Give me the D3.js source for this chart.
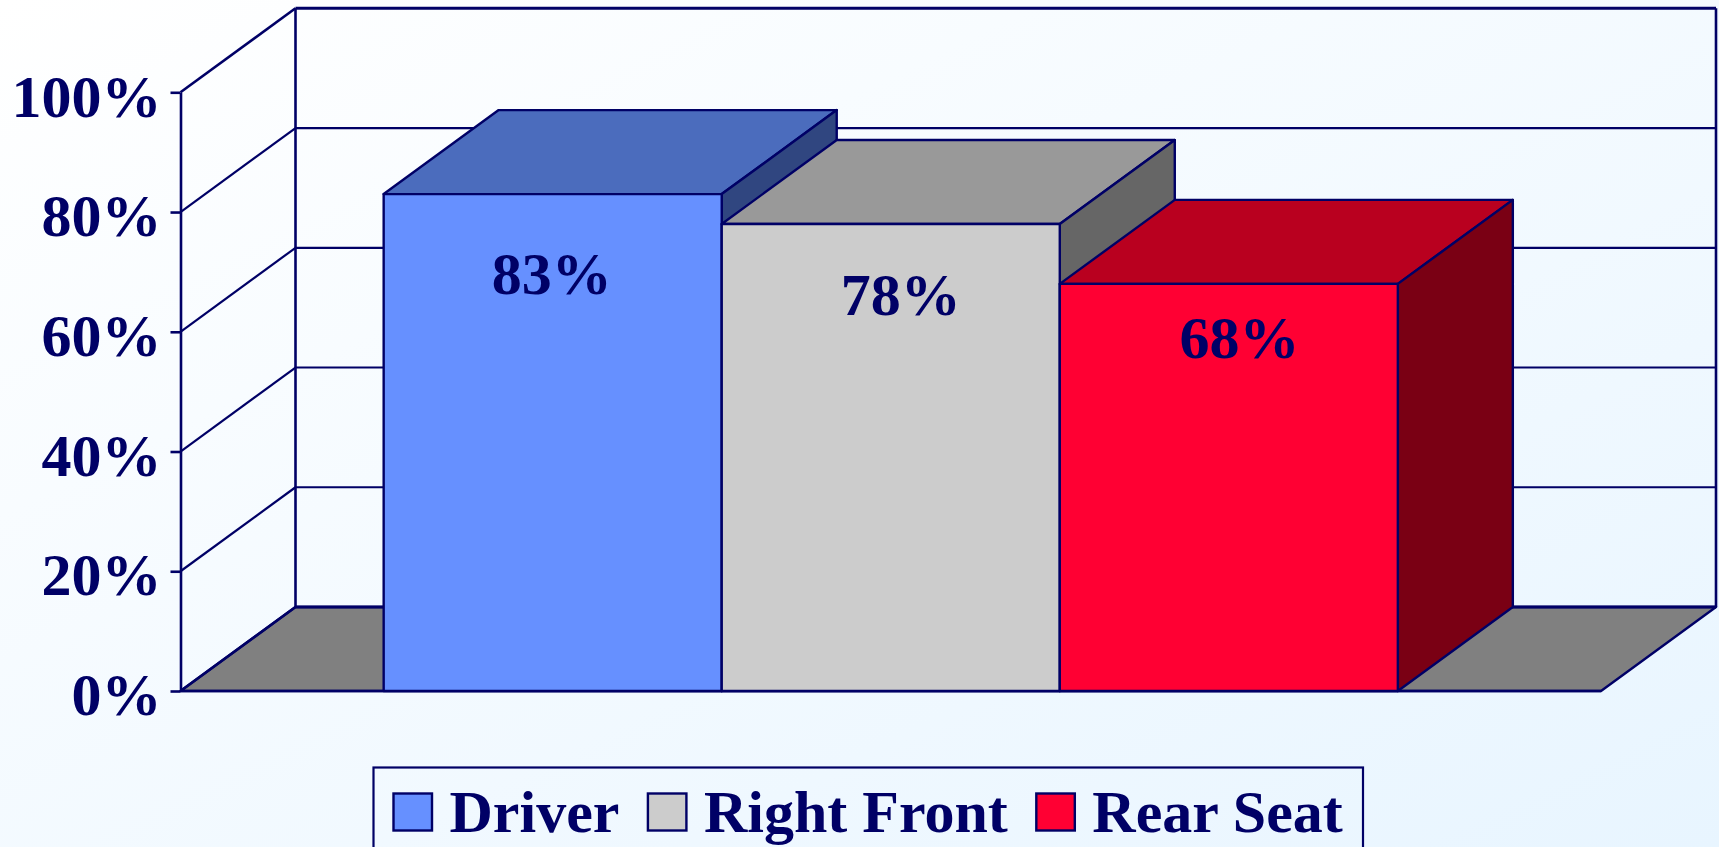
<!DOCTYPE html>
<html>
<head>
<meta charset="utf-8">
<script src="https://cdn.jsdelivr.net/npm/d3@7"></script>
<style>
  html, body { margin: 0; padding: 0; overflow: hidden; background: #f5faff; }
  svg { display: block; }
  text { font-family: "Liberation Serif", serif; font-weight: bold; fill: #000066; }
</style>
</head>
<body>
<div id="chart"></div>
<script>
// data
var categories = ['Driver', 'Right Front', 'Rear Seat'];
var values = [83, 78, 68];
var yTicks = [0, 20, 40, 60, 80, 100];

// colours for front / top / side of each bar
var frontColors = ['#6690ff', '#cccccc', '#ff0033'];
var topColors = ['#4b6cbd', '#999999', '#b9001f'];
var sideColors = ['#304680', '#666666', '#7a0014'];

// value labels sit by hand in the original, not centred
var labelNudge = [{x: -1, y: 99.5}, {x: 10, y: 91}, {x: 10.6, y: 74.6}];

var width = 1719, height = 847;
var ink = '#000066', fontSize = 60;
var depth = {x: 115, y: 84};
var left = 180.5, right = 1601, bottom = 691, top100 = 92.3;

var x = d3.scaleBand().domain(categories).range([left, right]).paddingInner(0).paddingOuter(0.601);
var y = d3.scaleLinear().domain([0, 100]).range([bottom, top100]);

var svg = d3.select('#chart').append('svg')
    .attr('width', width)
    .attr('height', height);

var grad = svg.append('defs').append('linearGradient')
    .attr('id', 'bg')
    .attr('x1', '0%').attr('y1', '0%')
    .attr('x2', '100%').attr('y2', '100%');
grad.append('stop').attr('offset', '0%').attr('stop-color', '#ffffff');
grad.append('stop').attr('offset', '100%').attr('stop-color', '#e8f5ff');

svg.append('rect').attr('width', width).attr('height', height).attr('fill', 'url(#bg)');

var poly = d3.line();

// floor
svg.append('path')
    .attr('d', poly([[left, bottom], [right, bottom], [right + depth.x, bottom - depth.y], [left + depth.x, bottom - depth.y]]) + 'Z')
    .attr('fill', '#808080')
    .attr('stroke', ink)
    .attr('stroke-width', 2.4)
    .attr('stroke-linejoin', 'round');

// walls: gridlines on the back, diagonals on the side
var grid = svg.append('g').attr('fill', 'none').attr('stroke', ink).attr('stroke-width', 2.6);

grid.selectAll('.back').data(yTicks).enter().append('line')
    .attr('class', 'back')
    .attr('x1', left + depth.x).attr('x2', right + depth.x)
    .attr('y1', d => y(d) - depth.y).attr('y2', d => y(d) - depth.y)
    .attr('stroke-width', d => (d === 100 || d === 0) ? 3 : 2.2);

grid.selectAll('.side').data(yTicks).enter().append('line')
    .attr('class', 'side')
    .attr('x1', left).attr('x2', left + depth.x)
    .attr('y1', d => y(d)).attr('y2', d => y(d) - depth.y)
    .attr('stroke-width', d => (d === 100 || d === 0) ? 2.6 : 2.2);

grid.append('line')
    .attr('x1', left + depth.x).attr('x2', left + depth.x)
    .attr('y1', y(100) - depth.y).attr('y2', y(0) - depth.y);
grid.append('line')
    .attr('x1', right + depth.x).attr('x2', right + depth.x)
    .attr('y1', y(100) - depth.y).attr('y2', y(0) - depth.y);

// y axis
var axis = svg.append('g')
    .attr('transform', 'translate(' + left + ',0)')
    .call(d3.axisLeft(y).tickValues(yTicks).tickFormat(d => d + '%').tickSize(10).tickSizeOuter(0).tickPadding(9));
axis.selectAll('path, line').attr('stroke', ink).attr('stroke-width', 2.6);
axis.selectAll('text')
    .attr('font-size', fontSize)
    .attr('font-family', '"Liberation Serif", serif')
    .attr('fill', ink)
    .attr('dy', '0.395em');

// front edge of the floor
svg.append('line')
    .attr('x1', left).attr('x2', right)
    .attr('y1', bottom).attr('y2', bottom)
    .attr('stroke', ink).attr('stroke-width', 2.6);

// bars, drawn left to right so each one covers the side of the last
var bars = svg.selectAll('.bar').data(categories).enter().append('g').attr('class', 'bar');

var shape = (color, corners) => function(d, i) {
    d3.select(this).append('path')
        .attr('d', poly(corners(d, i)) + 'Z')
        .attr('fill', color[i])
        .attr('stroke', ink)
        .attr('stroke-width', 2.4)
        .attr('stroke-linejoin', 'round');
};

bars.each(shape(topColors, (d, i) => {
    var x0 = x(d), x1 = x0 + x.bandwidth(), yy = y(values[i]);
    return [[x0, yy], [x1, yy], [x1 + depth.x, yy - depth.y], [x0 + depth.x, yy - depth.y]];
}));
bars.each(shape(sideColors, (d, i) => {
    var x1 = x(d) + x.bandwidth(), yy = y(values[i]);
    return [[x1, yy], [x1 + depth.x, yy - depth.y], [x1 + depth.x, y(0) - depth.y], [x1, y(0)]];
}));
bars.each(shape(frontColors, (d, i) => {
    var x0 = x(d), x1 = x0 + x.bandwidth(), yy = y(values[i]);
    return [[x0, yy], [x1, yy], [x1, y(0)], [x0, y(0)]];
}));

bars.append('text')
    .attr('text-anchor', 'middle')
    .attr('font-size', fontSize)
    .attr('x', (d, i) => x(d) + x.bandwidth() / 2 + labelNudge[i].x)
    .attr('y', (d, i) => y(values[i]) + labelNudge[i].y)
    .text((d, i) => values[i] + '%');

// legend, box runs off the bottom of the page like the original
var legend = svg.append('g');
legend.append('rect')
    .attr('x', 373.5).attr('y', 767.5)
    .attr('width', 989.5).attr('height', 120)
    .attr('fill', 'none')
    .attr('stroke', ink)
    .attr('stroke-width', 2.2);

var cursor = 393.5;
categories.forEach((c, i) => {
    legend.append('rect')
        .attr('x', cursor).attr('y', 793.5)
        .attr('width', 38.5).attr('height', 37)
        .attr('fill', frontColors[i])
        .attr('stroke', ink)
        .attr('stroke-width', 2.4);
    var label = legend.append('text')
        .attr('x', cursor + 56).attr('y', 832)
        .attr('font-size', fontSize)
        .text(c);
    cursor += 56 + label.node().getComputedTextLength() + 28.5;
});
</script>
</body>
</html>
